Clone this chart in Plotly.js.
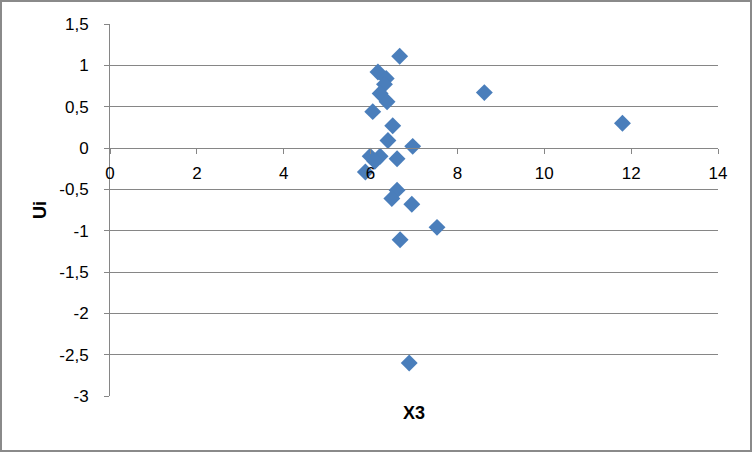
<!DOCTYPE html>
<html>
<head>
<meta charset="utf-8">
<script src="https://cdn.plot.ly/plotly-3.0.1.min.js"></script>
<style>
html,body{margin:0;padding:0;background:#fff;}
#wrap{position:relative;width:752px;height:452px;}
#chart{width:752px;height:452px;}
#frame{position:absolute;left:0;top:0;width:752px;height:452px;box-sizing:border-box;border:2px solid #8a8a8a;pointer-events:none;}
</style>
</head>
<body>
<div id="wrap"><div id="chart"></div><div id="frame"></div></div>
<script>
// Data
const x3 = [6.67, 6.17, 6.36, 6.32, 6.22, 6.38, 6.05, 6.51, 6.40, 6.97, 6.61, 6.22, 5.99, 6.10, 5.88, 6.61, 6.49, 6.95, 7.53, 6.68, 6.89, 8.62, 11.80];
const ui = [1.11, 0.92, 0.84, 0.77, 0.66, 0.56, 0.44, 0.27, 0.09, 0.02, -0.13, -0.10, -0.10, -0.16, -0.29, -0.51, -0.61, -0.68, -0.96, -1.11, -2.60, 0.67, 0.30];
const xTickVals = [0, 2, 4, 6, 8, 10, 12, 14];
const xTickText = ["0", "2", "4", "6", "8", "10", "12", "14"];
const yTickVals = [1.5, 1, 0.5, 0, -0.5, -1, -1.5, -2, -2.5, -3];
const yTickText = ["1,5", "1", "0,5", "0", "-0,5", "-1", "-1,5", "-2", "-2,5", "-3"];
const xTitle = "X3";
const yTitle = "Ui";

const fontFam = "Liberation Sans, Arial, sans-serif";
const grid = "#868686";

const trace = {
  x: x3, y: ui, type: "scatter", mode: "markers",
  marker: {symbol: "diamond", size: 13, color: "#4a7ebb", line: {width: 0}},
  hoverinfo: "x+y"
};

const layout = {
  width: 752, height: 452,
  margin: {l: 110, r: 34, t: 24, b: 56},
  paper_bgcolor: "#ffffff", plot_bgcolor: "#ffffff",
  showlegend: false,
  font: {family: fontFam, size: 17, color: "#000"},
  xaxis: {
    range: [0, 14], tickvals: xTickVals, ticktext: xTickText,
    anchor: "free", position: (0 - (-3)) / 4.5,
    showgrid: false, zeroline: false,
    showline: true, linecolor: grid, linewidth: 1,
    ticks: "outside", ticklen: 5, tickcolor: grid, tickwidth: 1,
    ticklabelstandoff: 5,
    tickfont: {family: fontFam, size: 17, color: "#000"}
  },
  yaxis: {
    range: [-3, 1.5], tickvals: yTickVals, ticktext: yTickText,
    showgrid: true, gridcolor: grid, gridwidth: 1,
    zeroline: false,
    showline: true, linecolor: grid, linewidth: 1,
    ticks: "outside", ticklen: 5, tickcolor: grid, tickwidth: 1,
    ticklabelstandoff: 12,
    tickfont: {family: fontFam, size: 17, color: "#000"}
  },
  annotations: [
    {text: "<b>" + xTitle + "</b>", xref: "paper", yref: "paper", x: 0.5, y: 0, yshift: -17,
     xanchor: "center", yanchor: "middle", showarrow: false, font: {family: fontFam, size: 18, color: "#000"}},
    {text: "<b>" + yTitle + "</b>", xref: "paper", yref: "paper", x: 0, xshift: -70, y: 0.5,
     xanchor: "center", yanchor: "middle", textangle: -90, showarrow: false, font: {family: fontFam, size: 18, color: "#000"}}
  ]
};

Plotly.newPlot("chart", [trace], layout, {displayModeBar: false, staticPlot: true});
</script>
</body>
</html>
